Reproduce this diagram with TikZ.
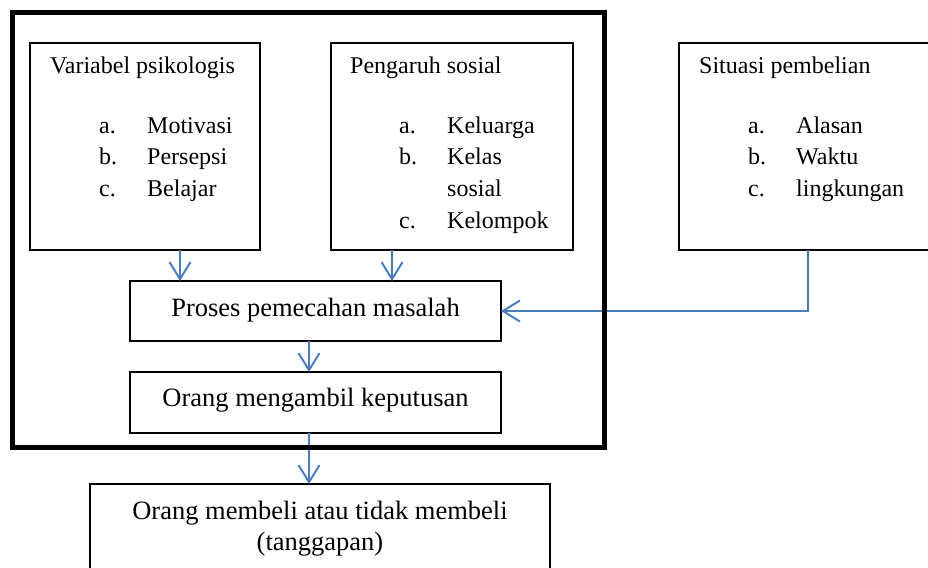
\documentclass[tikz,border=0pt]{standalone}
\usepackage{fontspec}
\setmainfont{Liberation Serif}
\usetikzlibrary{arrows.meta}
\definecolor{arrowblue}{HTML}{4A7EBB}
\begin{document}
\begin{tikzpicture}[x=1pt,y=-1pt,
  box/.style={draw, line width=1.3pt, fill=white, inner sep=0pt, outer sep=0pt, anchor=north west},
  groupframe/.style={draw, line width=5pt, inner sep=0pt, outer sep=0pt, anchor=north west},
  lst/.style={font=\fontsize{24}{31}\selectfont, anchor=base west, inner sep=0pt},
  big/.style={font=\fontsize{26.5}{33}\selectfont, anchor=base, inner sep=0pt},
  arr/.style={draw=arrowblue, line width=2pt, -{Straight Barb[length=17pt,width=21pt,line width=2pt]}}]
\clip (0,0) rectangle (928,567);
\fill[white] (0,0) rectangle (928,567);
% boxes
\node[box, minimum width=230pt, minimum height=207pt] (b1) at (30,43) {};
\node[box, minimum width=242pt, minimum height=207pt] (b2) at (331,43) {};
\node[box, minimum width=260pt, minimum height=207pt] (b3) at (679,43) {};
\node[box, minimum width=371pt, minimum height=60pt] (proc) at (130,281) {};
\node[box, minimum width=371pt, minimum height=61pt] (dec) at (130,372) {};
\node[box, minimum width=460pt, minimum height=100pt] (resp) at (90,484) {};
% texts box 1
\node[lst] (t1) at (50,74) {Variabel psikologis};
\node[lst] (t1a) at (99,133) {a.};
\node[lst] (t1at) at (147,133) {Motivasi};
\node[lst] (t1b) at (99,164) {b.};
\node[lst] (t1bt) at (147,164) {Persepsi};
\node[lst] (t1c) at (99,196) {c.};
\node[lst] (t1ct) at (147,196) {Belajar};
% texts box 2
\node[lst] (t2) at (350,74) {Pengaruh sosial};
\node[lst] (t2a) at (399,133) {a.};
\node[lst] (t2at) at (447,133) {Keluarga};
\node[lst] (t2b) at (399,164) {b.};
\node[lst] (t2bt) at (447,164) {Kelas};
\node[lst] (t2bt2) at (447,196) {sosial};
\node[lst] (t2c) at (399,228) {c.};
\node[lst] (t2ct) at (447,228) {Kelompok};
% texts box 3
\node[lst] (t3) at (699,74) {Situasi pembelian};
\node[lst] (t3a) at (748,133) {a.};
\node[lst] (t3at) at (796,133) {Alasan};
\node[lst] (t3b) at (748,164) {b.};
\node[lst] (t3bt) at (796,164) {Waktu};
\node[lst] (t3c) at (748,196) {c.};
\node[lst] (t3ct) at (796,196) {lingkungan};
% main texts
\node[big] (tp) at (315.5,316) {Proses pemecahan masalah};
\node[big] (td) at (315.5,406) {Orang mengambil keputusan};
\node[big] (tr1) at (320,519) {Orang membeli atau tidak membeli};
\node[big] (tr2) at (320,550) {(tanggapan)};
% connectors
\coordinate (x1) at (180,0);
\coordinate (x2) at (392,0);
\coordinate (x4) at (309,0);
\coordinate (x3) at (808,0);
\draw[arr] (x1 |- b1.south) -- (x1 |- proc.north);
\draw[arr] (x2 |- b2.south) -- (x2 |- proc.north);
\draw[arr] (x4 |- proc.south) -- (x4 |- dec.north);
\draw[arr] (x4 |- dec.south) -- (x4 |- resp.north);
\draw[arr] (x3 |- b3.south) |- (proc.east);
% group frame
\node[groupframe, minimum width=591.5pt, minimum height=434.5pt] (grp) at (12.5,12.5) {};
\end{tikzpicture}
\end{document}
